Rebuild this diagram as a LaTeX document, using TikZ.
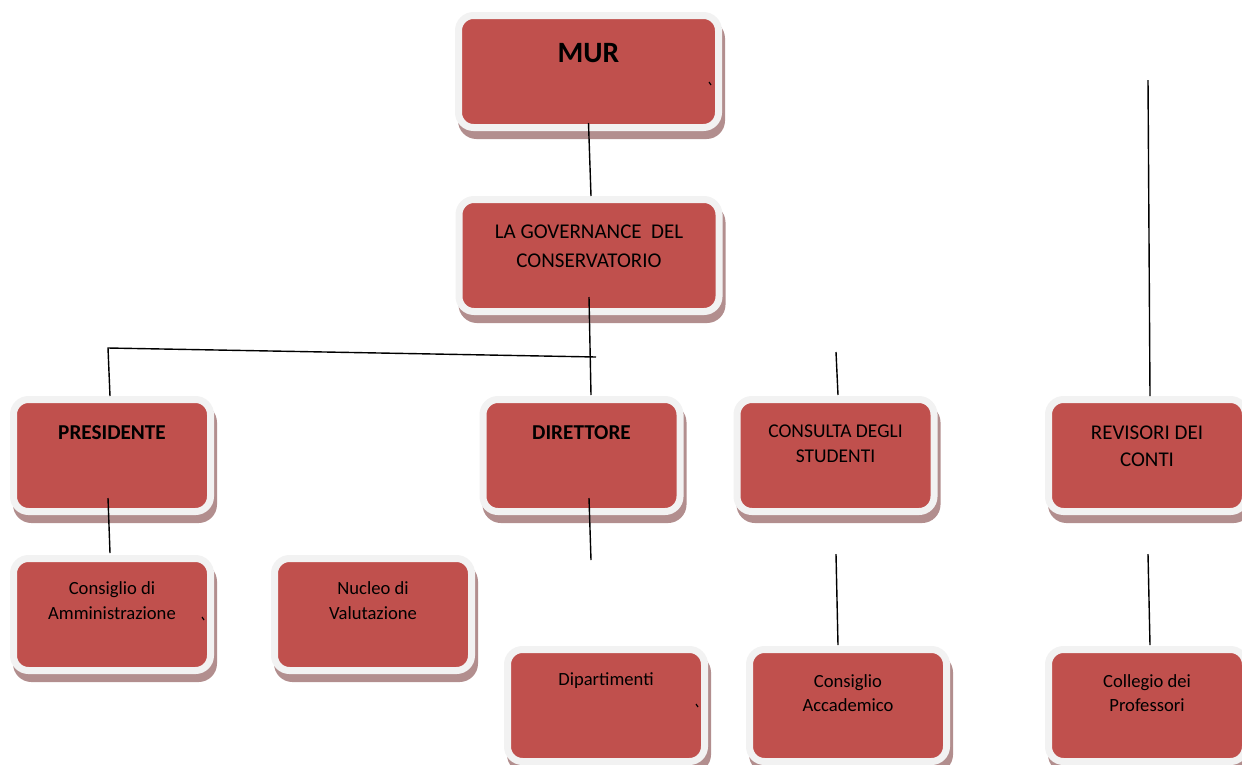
\documentclass[tikz,border=0pt]{standalone}
\usepackage{fontspec}
\setmainfont{Carlito}
\usepackage{tikz}
\usetikzlibrary{shadows}
\definecolor{boxred}{RGB}{192,80,77}
\definecolor{rimgray}{RGB}{242,242,242}
\definecolor{shadegray}{RGB}{178,142,142}

\begin{document}
\begin{tikzpicture}[x=1pt, y=-1pt,
	orgbox/.style={draw=rimgray, fill=boxred, line width=7pt, rounded corners=15pt,
		minimum width=197pt, minimum height=112pt, inner sep=0pt, outer sep=0pt,
		drop shadow={shadow xshift=3pt, shadow yshift=-8pt, opacity=1, fill=shadegray, draw=shadegray}},
	widebox/.style={orgbox, minimum width=260pt},
	boxtext/.style={anchor=base, align=center, inner sep=0pt, font=\fontsize{18.6}{25}\selectfont},
	boldtext/.style={boxtext, font=\fontsize{21.2}{25}\selectfont\bfseries},
	link/.style={line width=1.4pt, black},
	nick/.style={line width=1.2pt, black}]

\useasboundingbox (0,0) rectangle (1242,764);

% boxes
\node[widebox] (mur)  at (588.5, 71.5) {};
\node[widebox] (gov)  at (589, 255.5) {};
\node[orgbox]  (pres) at (112, 455.5) {};
\node[orgbox]  (dir)  at (581.5, 455.5) {};
\node[orgbox]  (cons) at (835.5, 455.5) {};
\node[orgbox]  (rev)  at (1147, 455.5) {};
\node[orgbox]  (cda)  at (112, 614.5) {};
\node[orgbox]  (ndv)  at (373, 614.5) {};
\node[orgbox]  (dip)  at (606, 705.5) {};
\node[orgbox]  (cacc) at (848, 705.5) {};
\node[orgbox]  (coll) at (1147, 705.5) {};

% texts (base = last line)
\node[boldtext, font=\fontsize{29.5}{30}\selectfont\bfseries] (murtxt) at ([yshift=-46.5pt]mur.north) {MUR};
\node[boxtext, font=\fontsize{21}{29}\selectfont] (govtxt) at ([yshift=-67.5pt]gov.north) {LA GOVERNANCE~ DEL\\CONSERVATORIO};
\node[boldtext] (prestxt) at ([yshift=-39.5pt]pres.north) {PRESIDENTE};
\node[boldtext] (dirtxt)  at ([yshift=-39.5pt]dir.north) {DIRETTORE};
\node[boxtext, font=\fontsize{19.5}{25}\selectfont] (constxt) at ([yshift=-62.5pt]cons.north) {CONSULTA DEGLI\\STUDENTI};
\node[boxtext, font=\fontsize{21}{27}\selectfont] (revtxt) at ([yshift=-66.5pt]rev.north) {REVISORI DEI\\CONTI};
\node[boxtext] (cdatxt)  at ([yshift=-60.5pt]cda.north) {Consiglio di\\Amministrazione};
\node[boxtext] (ndvtxt)  at ([yshift=-60.5pt]ndv.north) {Nucleo di\\Valutazione};
\node[boxtext] (diptxt)  at ([yshift=-35.5pt]dip.north) {Dipartimenti};
\node[boxtext, font=\fontsize{18.6}{24}\selectfont] (cacctxt) at ([yshift=-61.5pt]cacc.north) {Consiglio\\Accademico};
\node[boxtext, font=\fontsize{18.6}{24}\selectfont] (colltxt) at ([yshift=-61.5pt]coll.north) {Collegio dei\\Professori};

% free line ends
\coordinate (bus)     at (108, 348);
\coordinate (busend)  at (596, 357);
\coordinate (constop) at (836, 352);
\coordinate (revtop)  at (1148, 80);
\coordinate (dirend)  at (591, 560);
\coordinate (accup)   at (836, 554);
\coordinate (collup)  at (1148, 554);

% connectors
\draw[link] ([yshift=4.5pt]mur.south) -- ([xshift=2pt,yshift=3.5pt]gov.north);
\draw[link] ([yshift=14.5pt]gov.south) -- ([xshift=9.5pt,yshift=4.5pt]dir.north);
\draw[link] (busend) -- (bus) -- ([xshift=-2pt,yshift=3.5pt]pres.north); % bar to presidente
\draw[link] (constop) -- ([xshift=2.5pt,yshift=4.5pt]cons.north);
\draw[link] (revtop) -- ([xshift=3pt,yshift=3.5pt]rev.north);
\draw[link] ([xshift=-4pt,yshift=13.5pt]pres.south) -- ([xshift=-2pt,yshift=5.5pt]cda.north);
\draw[link] ([xshift=7.5pt,yshift=13.5pt]dir.south) -- (dirend);
\draw[link] (accup) -- ([xshift=-10pt,yshift=4.5pt]cacc.north);
\draw[link] (collup) -- ([xshift=3pt,yshift=4.5pt]coll.north);

% stray marks
\foreach \x/\y in {709/82, 202/617, 696/704}
	\draw[nick] (\x, \y) -- ++(2, 3);

\end{tikzpicture}
\end{document}
